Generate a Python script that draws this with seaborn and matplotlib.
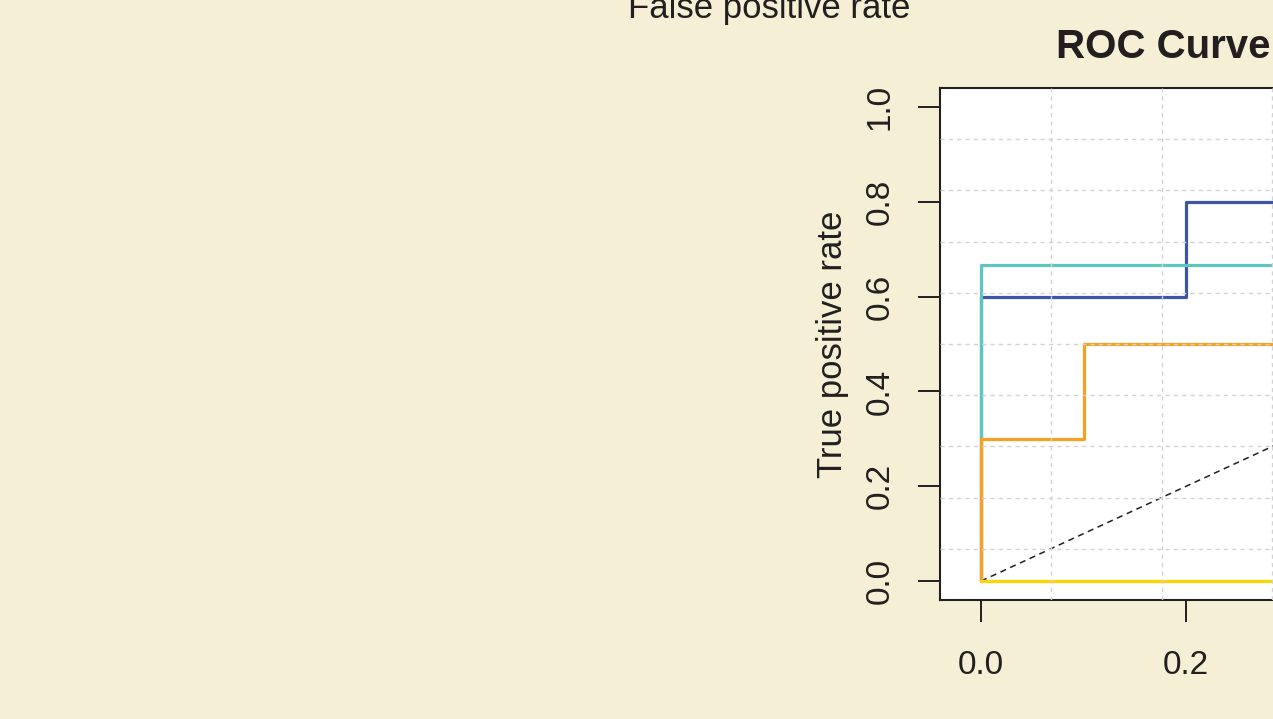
"""ROC curves for four classifiers, drawn in R base-graphics style."""

import matplotlib

matplotlib.use("Agg")
import matplotlib.pyplot as plt
import numpy as np
import pandas as pd
import seaborn as sns

# ROC step vertices per model
models = ["Model A", "Model B", "Model C", "Model D"]
fpr_a = [0.0, 0.0, 0.2, 0.2, 0.4, 0.4, 1.0]
tpr_a = [0.0, 0.6, 0.6, 0.8, 0.8, 1.0, 1.0]
fpr_b = [0.0, 0.0, 0.5, 0.5, 1.0]
tpr_b = [0.0, 0.667, 0.667, 1.0, 1.0]
fpr_c = [0.0, 0.0, 0.1, 0.1, 0.6, 0.6, 1.0]
tpr_c = [0.0, 0.3, 0.3, 0.5, 0.5, 1.0, 1.0]
fpr_d = [0.0, 1.0, 1.0]
tpr_d = [0.0, 0.0, 1.0]

chance = [0.0, 1.0]
ticks = [0.0, 0.2, 0.4, 0.6, 0.8, 1.0]
colors = ["#3D55A5", "#5EC6C0", "#F6A21E", "#FDD602"]

BG = "#F5F0D5"
INK = "#231F20"


def build_df():
    rows = []
    for name, fx, ty in zip(models, [fpr_a, fpr_b, fpr_c, fpr_d], [tpr_a, tpr_b, tpr_c, tpr_d]):
        for i, (f, t) in enumerate(zip(fx, ty)):
            rows.append({"model": name, "step": i, "fpr": f, "tpr": t})
    return pd.DataFrame(rows)


def plot_roc(df):
    sns.set_style("white")
    plt.rcParams["font.family"] = ["Liberation Sans", "DejaVu Sans"]
    plt.rcParams["text.color"] = INK

    fig = plt.figure(figsize=(12.73, 7.19), dpi=100)
    fig.patch.set_facecolor(BG)
    W, H = 1273, 719
    # the panel runs past the right edge of the canvas, as in the reference
    ax = fig.add_axes([940 / W, (H - 600) / H, 1108 / W, 512 / H])
    ax.set_facecolor("white")

    lo, hi = -0.04, 1.04
    ax.set_xlim(lo, hi)
    ax.set_ylim(lo, hi)

    ax.plot(chance, chance, color=INK, lw=1.1, ls=(0, (4, 3)), zorder=1)
    sns.lineplot(
        data=df, x="fpr", y="tpr", hue="model", hue_order=models,
        palette=colors, sort=False, estimator=None,
        lw=2.3, legend=False, ax=ax, zorder=2,
    )

    # R's grid(10, 10): equal divisions of the plot region, drawn on top
    for g in np.linspace(lo, hi, 11)[1:-1]:
        ax.axvline(g, color="#D3D3D3", lw=1.0, ls=(0, (3, 3)), zorder=3)
        ax.axhline(g, color="#D3D3D3", lw=1.0, ls=(0, (3, 3)), zorder=3)

    ax.set_xticks(ticks)
    ax.set_yticks(ticks)
    ax.set_xticklabels([f"{t:.1f}" for t in ticks])
    ax.set_yticklabels([f"{t:.1f}" for t in ticks])
    ax.tick_params(axis="both", direction="out", length=16, width=1.4,
                   colors=INK, labelsize=24, bottom=True, left=True)
    ax.tick_params(axis="x", pad=20)
    ax.tick_params(axis="y", pad=16, labelrotation=90)
    for lab in ax.get_yticklabels():
        lab.set_va("center")

    for side in ["left", "bottom", "top", "right"]:
        ax.spines[side].set_color(INK)
        ax.spines[side].set_linewidth(1.5)

    ax.set_xlabel("")
    ax.set_ylabel("True positive rate", fontsize=25, color=INK)
    ax.yaxis.set_label_coords((849 - 940) / 1108, 0.5)

    fig.text(1056 / W, 1 - 58 / H, "ROC Curve", fontsize=29, fontweight="bold",
             ha="left", va="baseline", color=INK)
    fig.text(769.5 / W, 1 - 18 / H, "False positive rate", fontsize=25,
             ha="center", va="baseline", color=INK)

    fig.savefig("out.png", dpi=100, facecolor=BG)


if __name__ == "__main__":
    plot_roc(build_df())
